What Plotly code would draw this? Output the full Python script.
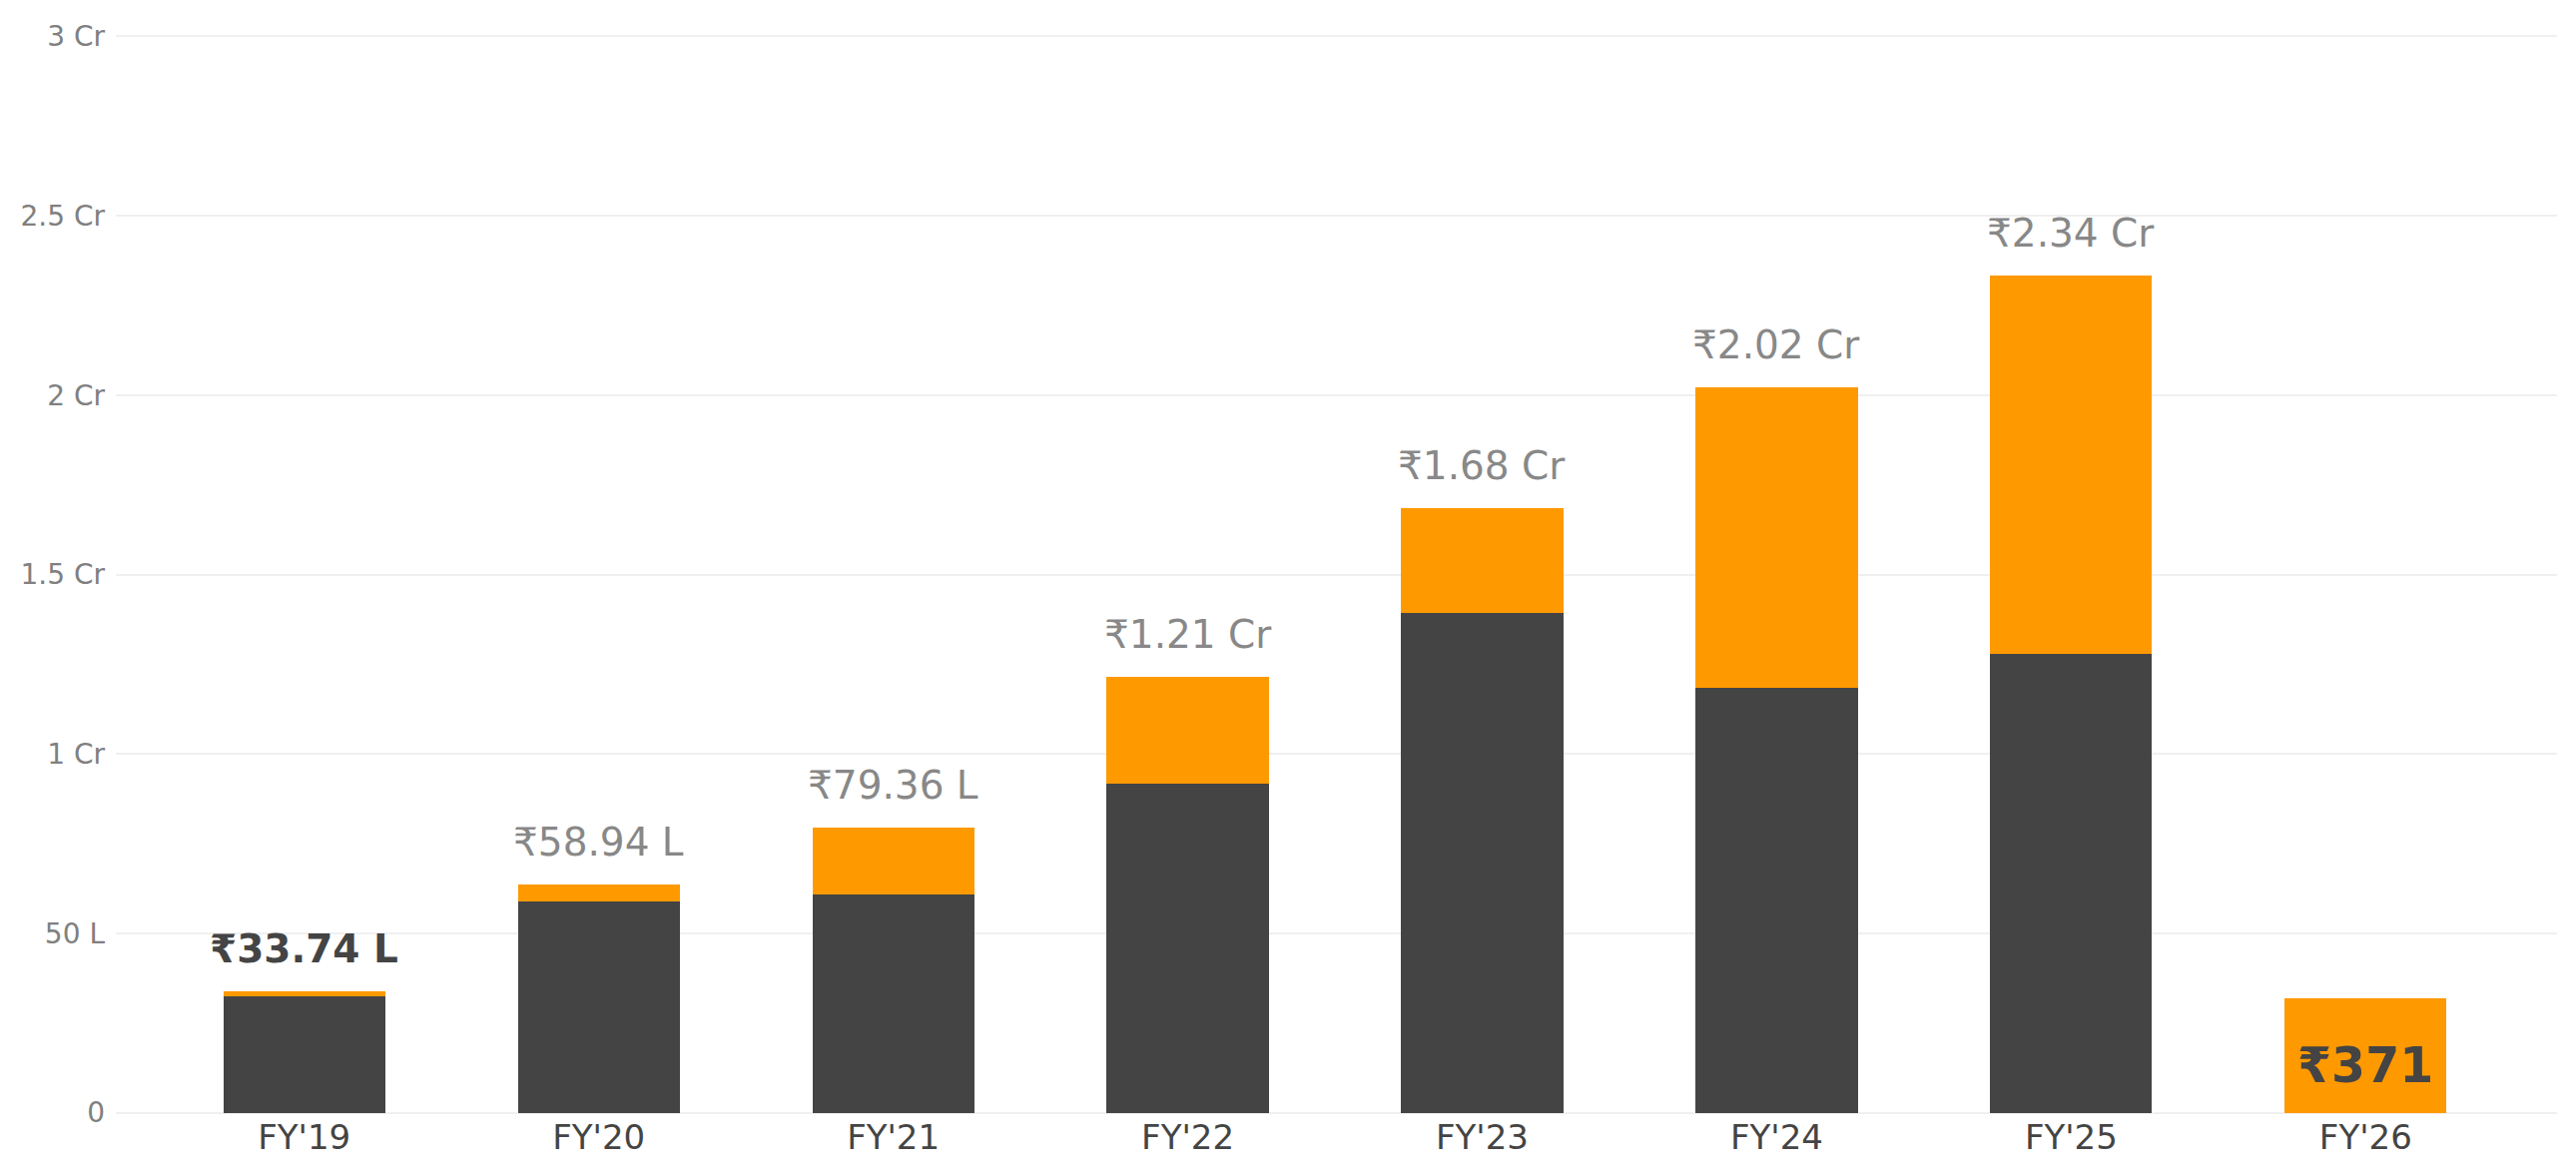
import plotly.graph_objects as go

categories = ["FY'19", "FY'20", "FY'21", "FY'22", "FY'23", "FY'24", "FY'25", "FY'26"]
# values in lakhs (₹)
dark_values = [32.3, 58.9, 60.7, 91.8, 139.3, 118.3, 127.9, 0]
orange_values = [1.44, 4.6, 18.7, 29.6, 29.2, 84.0, 105.4, 32.0]
label_texts = ["₹33.74 L", "₹58.94 L", "₹79.36 L", "₹1.21 Cr", "₹1.68 Cr", "₹2.02 Cr", "₹2.34 Cr", "₹371"]
y_tickvals = [0, 50, 100, 150, 200, 250, 300]
y_ticktext = ["0", "50 L", "1 Cr", "1.5 Cr", "2 Cr", "2.5 Cr", "3 Cr"]

DARK = "#444444"
ORANGE = "#FF9900"
FONT = "DejaVu Sans"

fig = go.Figure()
fig.add_trace(go.Bar(x=categories, y=dark_values, marker=dict(color=DARK, line=dict(width=0)),
                     width=0.55, hoverinfo="skip"))
fig.add_trace(go.Bar(x=categories, y=orange_values, marker=dict(color=ORANGE, line=dict(width=0)),
                     width=0.55, hoverinfo="skip"))

totals = [d + o for d, o in zip(dark_values, orange_values)]
n = len(categories)
for i, (cat, tot, txt) in enumerate(zip(categories, totals, label_texts)):
    if i == n - 1:
        fig.add_annotation(x=cat, y=tot / 2, text="<b>" + txt + "</b>", showarrow=False,
                           yanchor="middle", yshift=-10,
                           font=dict(family=FONT, size=49, color=DARK))
    elif i == 0:
        fig.add_annotation(x=cat, y=tot, text="<b>" + txt + "</b>", showarrow=False,
                           yanchor="bottom", yshift=18,
                           font=dict(family=FONT, size=39, color=DARK))
    else:
        fig.add_annotation(x=cat, y=tot, text=txt, showarrow=False,
                           yanchor="bottom", yshift=18,
                           font=dict(family=FONT, size=39, color="#888888"))

fig.update_layout(
    width=2580, height=1177,
    barmode="stack",
    showlegend=False,
    plot_bgcolor="white", paper_bgcolor="white",
    margin=dict(l=108, r=27, t=25, b=69),
    font=dict(family=FONT),
    xaxis=dict(range=[-0.64, 7.65], showgrid=False, zeroline=False, showline=False,
               ticks="", tickfont=dict(family=FONT, size=34, color=DARK)),
    yaxis=dict(range=[-0.4, 300.4], tickvals=y_tickvals, ticktext=y_ticktext,
               showgrid=True, gridcolor="#f0f0f0", gridwidth=2, zeroline=False,
               showline=False, ticks="", ticklabelstandoff=10,
               tickfont=dict(family=FONT, size=28, color="#808080")),
)

fig.write_html("out.html")
